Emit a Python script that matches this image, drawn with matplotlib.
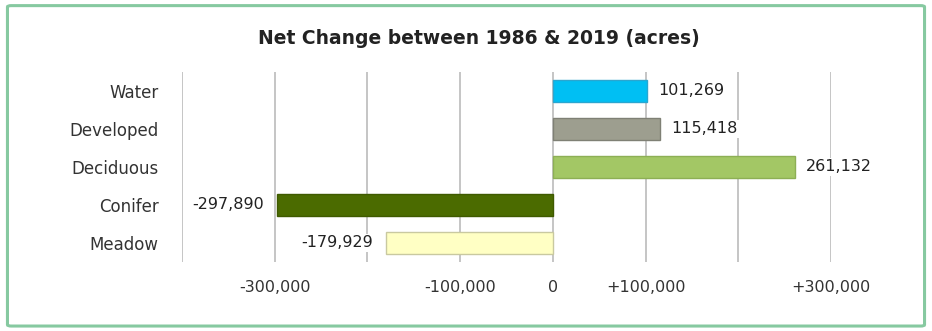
import matplotlib.pyplot as plt
from matplotlib.patches import FancyBboxPatch

categories = ['Water', 'Developed', 'Deciduous', 'Conifer', 'Meadow']
net_change = [101269, 115418, 261132, -297890, -179929]
bar_colors = ['#00BFF3', '#9D9E8F', '#A3C765', '#4B6B00', '#FFFFC4']
edge_colors = ['#2AA6D0', '#7F8075', '#8DAF55', '#3F5A00', '#C9C9A0']
tick_values = [-300000, -100000, 0, 100000, 300000]
tick_labels = ['-300,000', '-100,000', '0', '+100,000', '+300,000']

plt.rcParams['font.family'] = ['DejaVu Sans']

fig = plt.figure(figsize=(9.32, 3.31), dpi=100)
ax = fig.add_axes([0.1953, 0.2085, 0.6964, 0.574])

ypos = list(range(len(categories)))
ax.barh(ypos, net_change, height=0.6, color=bar_colors,
        edgecolor=edge_colors, linewidth=1, zorder=3)

for y, v in zip(ypos, net_change):
    if v >= 0:
        ax.text(v + 12000, y, f'{v:,}', va='center', ha='left', fontsize=11.5,
                color='#222222', zorder=4,
                bbox=dict(facecolor='white', edgecolor='none', pad=1))
    else:
        ax.text(v - 14000, y, f'{v:,}', va='center', ha='right', fontsize=11.5,
                color='#222222', zorder=4,
                bbox=dict(facecolor='white', edgecolor='none', pad=1))

ax.set_xlim(-400000, 300000)
ax.set_ylim(len(categories) - 0.5, -0.5)
ax.set_yticks(ypos)
ax.set_yticklabels(categories, fontsize=12, color='#333333')
ax.set_xticks(tick_values)
ax.set_xticklabels(tick_labels, fontsize=11.5, color='#333333')
ax.tick_params(axis='both', length=0)
ax.tick_params(axis='y', pad=17)
ax.tick_params(axis='x', pad=13)

for g in range(-400000, 300001, 100000):
    ax.axvline(g, color='#BBBBBB', linewidth=1.2, zorder=1)

for s in ax.spines.values():
    s.set_visible(False)

fig.text(0.514, 0.885, 'Net Change between 1986 & 2019 (acres)',
         ha='center', va='center', fontsize=13.5, fontweight='bold',
         color='#222222')

border = FancyBboxPatch((0.008, 0.015), 0.984, 0.968,
                        boxstyle='round,pad=0,rounding_size=0.004',
                        transform=fig.transFigure, facecolor='none',
                        edgecolor='#86C9A0', linewidth=2.2)
fig.patches.append(border)

fig.savefig('out.png', dpi=100)
